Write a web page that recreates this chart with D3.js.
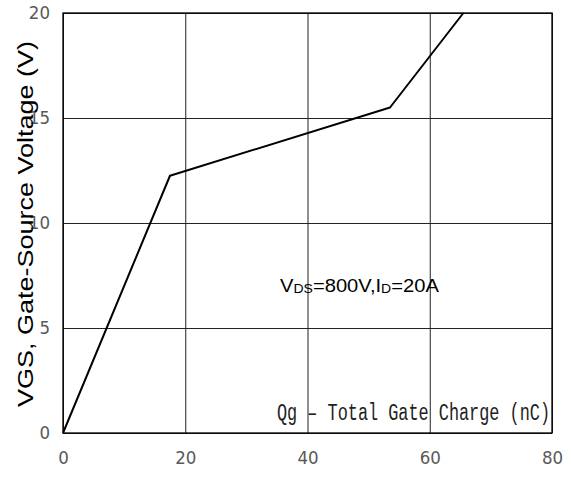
<!DOCTYPE html>
<html>
<head>
<meta charset="utf-8">
<script src="https://cdn.jsdelivr.net/npm/d3@7/dist/d3.min.js"></script>
<style>
  html, body { margin: 0; padding: 0; background: #fff; }
  svg { display: block; }
</style>
</head>
<body>
<svg id="chart" width="573" height="481"></svg>
<script>
// Gate charge curve: Qg (nC) vs VGS (V)
const qg = [0, 17.5, 53.5, 65.5];
const vgs = [0, 12.25, 15.5, 20];
const xTicks = [0, 20, 40, 60, 80];
const yTicks = [0, 5, 10, 15, 20];

const svg = d3.select("#chart");
const margin = { left: 63, top: 13, right: 21, bottom: 48 };
const W = 573, H = 481;
const iw = W - margin.left - margin.right;
const ih = H - margin.top - margin.bottom;

const x = d3.scaleLinear().domain([0, 80]).range([0, iw]);
const y = d3.scaleLinear().domain([0, 20]).range([ih, 0]);

const g = svg.append("g").attr("transform", `translate(${margin.left},${margin.top})`);

const tickFont = "'Liberation Sans Narrow', 'DejaVu Sans Condensed', 'Roboto Condensed', sans-serif";

// x axis with full-height grid lines
const gx = g.append("g")
  .attr("transform", `translate(0,${ih})`)
  .call(d3.axisBottom(x).tickValues(xTicks).tickSize(-ih).tickPadding(18).tickFormat(d3.format("d")));
gx.select(".domain").remove();
gx.selectAll("line").attr("stroke", "#222").attr("stroke-width", 1);
gx.selectAll("text").attr("font-family", tickFont).attr("font-size", 18.5).attr("fill", "#595959");

// y axis with full-width grid lines
const gy = g.append("g")
  .call(d3.axisLeft(y).tickValues(yTicks).tickSize(-iw).tickPadding(13).tickFormat(d3.format("d")));
gy.select(".domain").remove();
gy.selectAll("line").attr("stroke", "#222").attr("stroke-width", 1);
gy.selectAll("text").attr("font-family", tickFont).attr("font-size", 18.5).attr("fill", "#595959");

// plot frame
g.append("rect")
  .attr("x", 0).attr("y", 0).attr("width", iw).attr("height", ih)
  .attr("fill", "none").attr("stroke", "#000").attr("stroke-width", 1.3);

// curve
const pts = qg.map((q, i) => [q, vgs[i]]);
g.append("path")
  .datum(pts)
  .attr("fill", "none")
  .attr("stroke", "#000")
  .attr("stroke-width", 2)
  .attr("stroke-linejoin", "round")
  .attr("d", d3.line().x(d => x(d[0])).y(d => y(d[1])));

// y axis title
svg.append("text")
  .attr("transform", "translate(33,224) rotate(-90)")
  .attr("text-anchor", "middle")
  .attr("font-family", "'Liberation Sans', Arial, sans-serif")
  .attr("font-size", 22)
  .attr("textLength", 366)
  .attr("lengthAdjust", "spacingAndGlyphs")
  .attr("fill", "#000")
  .text("VGS, Gate-Source Voltage (V)");

// x axis title inside the plot
svg.append("text")
  .attr("transform", "translate(277,420) scale(1,1.3)")
  .attr("font-family", "'Liberation Mono', 'DejaVu Sans Mono', monospace")
  .attr("font-size", 19)
  .attr("textLength", 273)
  .attr("lengthAdjust", "spacingAndGlyphs")
  .attr("fill", "#222")
  .text("Qg – Total Gate Charge (nC)");

// test condition annotation
const ann = svg.append("text")
  .attr("transform", "translate(280,292) scale(1.12,1)")
  .attr("font-family", "'Liberation Sans', Arial, sans-serif")
  .attr("font-size", 18)
  .attr("fill", "#000");
ann.append("tspan").text("V");
ann.append("tspan").attr("font-size", 12.5).attr("dy", 1).text("DS");
ann.append("tspan").attr("dy", -1).text("=800V,I");
ann.append("tspan").attr("font-size", 12.5).attr("dy", 1).text("D");
ann.append("tspan").attr("dy", -1).text("=20A");
</script>
</body>
</html>
